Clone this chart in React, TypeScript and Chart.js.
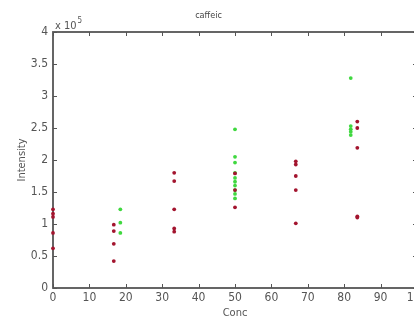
import React, { useEffect, useRef } from "react";
import { Chart, registerables } from "chart.js";

Chart.register(...registerables);

// Concentrations (x) and intensities (in units of 1e5)
const redConc = [0, 16.7, 33.3, 50, 66.7, 83.6];
const redIntensity = [
  [1.23, 1.16, 1.11, 0.86, 0.62],
  [0.99, 0.89, 0.69, 0.42],
  [1.8, 1.67, 1.23, 0.93, 0.88],
  [1.79, 1.53, 1.26],
  [1.98, 1.93, 1.75, 1.53, 1.01],
  [2.6, 2.5, 2.19, 1.12, 1.1],
];
const greenConc = [18.5, 50, 81.8];
const greenIntensity = [
  [1.23, 1.02, 0.86],
  [2.48, 2.05, 1.96, 1.8, 1.72, 1.66, 1.6, 1.53, 1.47, 1.4],
  [3.28, 2.53, 2.48, 2.44, 2.39],
];
const xTicks = [0, 10, 20, 30, 40, 50, 60, 70, 80, 90, 100];
const yTicks = [0, 0.5, 1, 1.5, 2, 2.5, 3, 3.5, 4];
const SCALE = 1e5;

const FONT = "'Liberation Sans Narrow', 'DejaVu Sans Condensed', 'Liberation Sans', sans-serif";
const AXIS = "#555555";

function toPoints(conc: number[], vals: number[][]) {
  const out: { x: number; y: number }[] = [];
  conc.forEach((c, i) => vals[i].forEach((v) => out.push({ x: c, y: v * SCALE })));
  return out;
}

const framePlugin = {
  id: "matlabFrame",
  beforeDatasetsDraw(chart: any) {
    const { ctx, chartArea: a, scales } = chart;
    ctx.save();
    ctx.strokeStyle = AXIS;
    ctx.lineWidth = 1.8;
    ctx.strokeRect(a.left, a.top, a.right - a.left, a.bottom - a.top);
    ctx.lineWidth = 1;
    const tl = 4;
    ctx.beginPath();
    xTicks.forEach((t) => {
      const x = Math.round(scales.x.getPixelForValue(t)) + 0.5;
      ctx.moveTo(x, a.bottom);
      ctx.lineTo(x, a.bottom - tl);
      ctx.moveTo(x, a.top);
      ctx.lineTo(x, a.top + tl);
    });
    yTicks.forEach((t) => {
      const y = Math.round(scales.y.getPixelForValue(t * SCALE)) + 0.5;
      ctx.moveTo(a.left, y);
      ctx.lineTo(a.left + tl, y);
      ctx.moveTo(a.right, y);
      ctx.lineTo(a.right - tl, y);
    });
    ctx.stroke();
    ctx.restore();
  },
  afterDraw(chart: any) {
    const { ctx, chartArea: a } = chart;
    ctx.save();
    ctx.fillStyle = AXIS;
    ctx.textBaseline = "alphabetic";
    ctx.textAlign = "left";
    ctx.font = `11px ${FONT}`;
    ctx.fillText("x 10", a.left + 2, a.top - 3);
    const w = ctx.measureText("x 10").width;
    ctx.font = `8px ${FONT}`;
    ctx.fillText("5", a.left + 2 + w + 1, a.top - 9);
    ctx.restore();
  },
};

export default function App() {
  const ref = useRef<HTMLCanvasElement | null>(null);
  useEffect(() => {
    document.body.style.overflow = "hidden";
    const canvas = ref.current!;
    const chart = new Chart(canvas, {
      type: "scatter",
      data: {
        datasets: [
          {
            label: "red",
            data: toPoints(redConc, redIntensity),
            backgroundColor: "#a3142e",
            borderColor: "#a3142e",
            pointRadius: 1.9,
            pointBorderWidth: 0,
            clip: false as any,
          },
          {
            label: "green",
            data: toPoints(greenConc, greenIntensity),
            backgroundColor: "#3fd83f",
            borderColor: "#3fd83f",
            pointRadius: 1.9,
            pointBorderWidth: 0,
            clip: false as any,
          },
        ],
      },
      options: {
        animation: false,
        responsive: false,
        devicePixelRatio: 1,
        layout: { padding: { left: 0, right: 43, top: 0, bottom: 0 } },
        plugins: {
          legend: { display: false },
          tooltip: { enabled: false },
          title: {
            display: true,
            text: "caffeic",
            color: "#444",
            font: { family: FONT, size: 9, weight: "normal" },
            padding: { top: 10.6, bottom: 10.6 },
          },
        },
        scales: {
          x: {
            type: "linear",
            min: 0,
            max: 100,
            afterBuildTicks: (s: any) => {
              s.ticks = xTicks.map((v) => ({ value: v }));
            },
            afterFit: (s: any) => {
              s.height = 34;
            },
            grid: { display: false, drawTicks: false, tickLength: 0 },
            border: { display: false },
            ticks: {
              color: AXIS,
              font: { family: FONT, size: 12 },
              padding: 3,
              maxRotation: 0,
              autoSkip: false,
            },
            title: {
              display: true,
              text: "Conc",
              color: AXIS,
              font: { family: FONT, size: 11 },
              padding: { top: 0, bottom: 2 },
            },
          },
          y: {
            type: "linear",
            min: 0,
            max: 4 * SCALE,
            afterBuildTicks: (s: any) => {
              s.ticks = yTicks.map((v) => ({ value: v * SCALE }));
            },
            afterFit: (s: any) => {
              s.width = 53;
            },
            grid: { display: false, drawTicks: false, tickLength: 0 },
            border: { display: false },
            ticks: {
              color: AXIS,
              font: { family: FONT, size: 12 },
              padding: 5,
              autoSkip: false,
              callback: (v: any) => String(Number(v) / SCALE),
            },
            title: {
              display: true,
              text: "Intensity",
              color: AXIS,
              font: { family: FONT, size: 11 },
              padding: { top: 16, bottom: 0 },
            },
          },
        },
      },
      plugins: [framePlugin],
    });
    return () => chart.destroy();
  }, []);
  return (
    <div style={{ position: "absolute", left: 0, top: 0, width: 460, height: 322, background: "#fff" }}>
      <canvas ref={ref} width={460} height={322} style={{ width: 460, height: 322, display: "block" }} />
    </div>
  );
}
